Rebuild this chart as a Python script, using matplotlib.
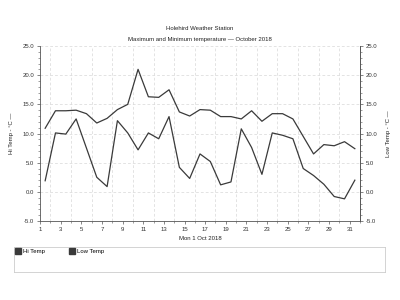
import matplotlib
matplotlib.use("Agg")
import matplotlib.pyplot as plt
from matplotlib.ticker import MultipleLocator, FixedLocator
import numpy as np

days = list(range(1, 32))
hi_temp = [10.9, 13.9, 13.9, 14.0, 13.4, 11.8, 12.6, 14.1, 15.0, 21.0, 16.3, 16.2, 17.5, 13.7, 13.0,
           14.1, 14.0, 12.9, 12.9, 12.5, 13.9, 12.1, 13.4, 13.4, 12.5, 9.5, 6.5, 8.1, 7.9, 8.6, 7.4]
low_temp = [1.9, 10.1, 9.9, 12.5, 7.5, 2.5, 0.9, 12.2, 10.1, 7.2, 10.1, 9.1, 12.9, 4.2, 2.3,
            6.5, 5.2, 1.2, 1.7, 10.8, 7.6, 3.0, 10.1, 9.7, 9.1, 4.0, 2.8, 1.3, -0.8, -1.2, 2.0]
x_tick_labels = [str(d) for d in range(1, 32, 2)]
y_ticks = [-5, 0, 5, 10, 15, 20, 25]

plt.rcParams['font.family'] = ['Liberation Sans', 'DejaVu Sans']
fs = 4.3
line_col = '#3a3a3a'
fig = plt.figure(figsize=(4, 3), dpi=100)
ax = fig.add_axes([0.1, 0.2633, 0.8, 0.5833])

xs = np.array(days) + 0.5
ax.plot(xs, hi_temp, color=line_col, lw=0.9)
ax.plot(xs, low_temp, color=line_col, lw=0.9)

ax.set_xlim(1, 32)
ax.set_ylim(-5, 25)
ax.xaxis.set_major_locator(FixedLocator(range(1, 32, 2)))
ax.set_xticklabels(x_tick_labels)
ax.xaxis.set_minor_locator(FixedLocator(range(1, 33)))
ax.yaxis.set_major_locator(FixedLocator(y_ticks))
ax.set_yticklabels([f"{v:.1f}" for v in y_ticks])
ax.yaxis.set_minor_locator(MultipleLocator(1))

ax.grid(True, which='minor', axis='x', color='#d8d8d8', lw=0.5, ls=(0, (4, 3)))
ax.grid(True, which='major', axis='y', color='#d8d8d8', lw=0.5, ls=(0, (4, 3)))
ax.set_axisbelow(True)

ax.spines['top'].set_visible(False)
for s in ['left', 'right', 'bottom']:
    ax.spines[s].set_color('#555555')
    ax.spines[s].set_linewidth(0.6)

ax.tick_params(axis='both', which='major', labelsize=fs, length=2.5, width=0.5, colors='#555555',
               labelcolor='#333333', pad=1.5)
ax.tick_params(axis='both', which='minor', length=1.5, width=0.4, colors='#555555')

ax2 = ax.twinx()
ax2.set_ylim(-5, 25)
ax2.yaxis.set_major_locator(FixedLocator(y_ticks))
ax2.set_yticklabels([f"{v:.1f}" for v in y_ticks])
ax2.yaxis.set_minor_locator(MultipleLocator(1))
for s in ['top', 'left', 'bottom']:
    ax2.spines[s].set_visible(False)
ax2.spines['right'].set_color('#555555')
ax2.spines['right'].set_linewidth(0.6)
ax2.tick_params(axis='y', which='major', labelsize=fs, length=2.5, width=0.5, colors='#555555',
                labelcolor='#333333', pad=1.5)
ax2.tick_params(axis='y', which='minor', length=1.5, width=0.4, colors='#555555')
ax.tick_params(axis='y', which='both', right=False)

ax.set_ylabel("Hi Temp - °C —", fontsize=fs, color='#222222', labelpad=6)
ax2.set_ylabel("Low Temp - °C —", fontsize=fs, color='#222222', labelpad=6)
ax.set_xlabel("Mon 1 Oct 2018", fontsize=fs, color='#222222', labelpad=3)

fig.text(0.5, 1 - 29 / 300, "Holehird Weather Station", ha='center', va='center', fontsize=fs, color='#222222')
fig.text(0.5, 1 - 40 / 300, "Maximum and Minimum temperature — October 2018", ha='center', va='center',
         fontsize=fs, color='#222222')

# legend box
lax = fig.add_axes([14 / 400, 1 - 272 / 300, 371 / 400, 25 / 300])
lax.set_xticks([])
lax.set_yticks([])
for s in lax.spines.values():
    s.set_color('#cccccc')
    s.set_linewidth(0.6)
handles = [plt.Line2D([], [], marker='s', ls='none', color=line_col, markersize=4),
           plt.Line2D([], [], marker='s', ls='none', color=line_col, markersize=4)]
lax.legend(handles, ["Hi Temp", "Low Temp"], loc='upper left', ncol=2, frameon=False, fontsize=fs,
           handlelength=0.6, handletextpad=0.6, columnspacing=4.2, borderaxespad=0.1,
           borderpad=0.2)

fig.savefig("out.png", dpi=100)
